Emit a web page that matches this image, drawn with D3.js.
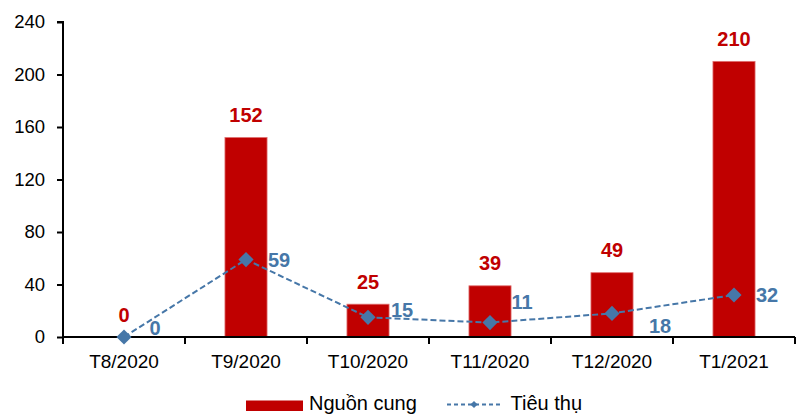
<!DOCTYPE html>
<html>
<head>
<meta charset="utf-8">
<script src="https://cdn.jsdelivr.net/npm/d3@7"></script>
<style>
  body { margin: 0; background: #fff; }
  svg { display: block; font-family: "Liberation Sans", Arial, sans-serif; }
</style>
</head>
<body>
<svg id="chart" width="805" height="416"></svg>
<script>
// Monthly supply (bars) and absorption (dashed line)
const categories = ["T8/2020", "T9/2020", "T10/2020", "T11/2020", "T12/2020", "T1/2021"];
const supply = [0, 152, 25, 39, 49, 210];
const sales = [0, 59, 15, 11, 18, 32];
const yTicks = [0, 40, 80, 120, 160, 200, 240];
const seriesNames = ["Nguồn cung", "Tiêu thụ"];

const barColor = "#C00000";
const lineColor = "#4677A8";
const FONT = "Liberation Sans, Arial, sans-serif";

const svg = d3.select("#chart");
const margin = { left: 63, right: 10, top: 22, bottom: 79 };
const W = 805, H = 416;

const x = d3.scaleBand()
  .domain(categories)
  .range([margin.left, W - margin.right])
  .paddingInner(0).paddingOuter(0);

const y = d3.scaleLinear()
  .domain([0, 240])
  .range([H - margin.bottom, margin.top]);

// Y axis
const yAxis = svg.append("g")
  .attr("transform", `translate(${margin.left},0)`)
  .call(d3.axisLeft(y).tickValues(yTicks).tickSize(6).tickPadding(12));
yAxis.select(".domain").attr("stroke", "#000").attr("stroke-width", 2)
  .attr("d", `M-6,${y(240)}H0V${y(0)}`);
yAxis.selectAll(".tick line").attr("stroke", "#000").attr("stroke-width", 2);
yAxis.selectAll(".tick text").attr("font-size", 18.5).attr("fill", "#000")
  .attr("font-family", FONT);

// Bars
const barW = x.bandwidth() * 0.345;
svg.append("g").selectAll("rect")
  .data(supply)
  .join("rect")
  .attr("x", (d, i) => x(categories[i]) + x.bandwidth() / 2 - barW / 2)
  .attr("y", d => y(d))
  .attr("width", barW)
  .attr("height", d => y(0) - y(d))
  .attr("fill", barColor)
  .attr("stroke", "#E07070")
  .attr("stroke-width", d => d > 0 ? 0.8 : 0);

// X axis (drawn after bars so its line sits on top)
const xAxis = svg.append("g")
  .attr("transform", `translate(0,${y(0)})`)
  .call(d3.axisBottom(x).tickSize(0).tickPadding(17.5));
xAxis.select(".domain").attr("stroke", "#000").attr("stroke-width", 2)
  .attr("d", `M${margin.left},0H${W - margin.right}`);
xAxis.selectAll(".tick text").attr("font-size", 19).attr("fill", "#000")
  .attr("font-family", FONT);
// Category separators below the axis
const sepPos = d3.range(categories.length + 1).map(i => margin.left + i * x.bandwidth());
xAxis.append("g").selectAll("line")
  .data(sepPos)
  .join("line")
  .attr("x1", d => d).attr("x2", d => d)
  .attr("y1", 0).attr("y2", 7)
  .attr("stroke", "#000").attr("stroke-width", 2);

// Bar value labels
svg.append("g").selectAll("text")
  .data(supply)
  .join("text")
  .attr("x", (d, i) => x(categories[i]) + x.bandwidth() / 2)
  .attr("y", d => y(d) - 15.5)
  .attr("text-anchor", "middle")
  .attr("font-size", 20).attr("font-weight", "bold")
  .attr("fill", barColor)
  .text(d => d);

// Sales line
const cx = (i) => x(categories[i]) + x.bandwidth() / 2;
const line = d3.line().x((d, i) => cx(i)).y(d => y(d));
svg.append("path")
  .datum(sales)
  .attr("d", line)
  .attr("fill", "none")
  .attr("stroke", lineColor)
  .attr("stroke-width", 2)
  .attr("stroke-dasharray", "6,3");

svg.append("g").selectAll("path")
  .data(sales)
  .join("path")
  .attr("d", d3.symbol().type(d3.symbolSquare).size(115))
  .attr("transform", (d, i) => `translate(${cx(i)},${y(d)}) rotate(45)`)
  .attr("fill", lineColor);

// Sales value labels, offsets set per point
const salesOffsets = [[31, -2], [33, 7], [34, -0.5], [32, -13.5], [48, 20], [33, 7]];
svg.append("g").selectAll("text")
  .data(sales)
  .join("text")
  .attr("x", (d, i) => cx(i) + salesOffsets[i][0])
  .attr("y", (d, i) => y(d) + salesOffsets[i][1])
  .attr("text-anchor", "middle")
  .attr("font-size", 20).attr("font-weight", "bold")
  .attr("fill", lineColor)
  .text(d => d);

// Legend
const legend = svg.append("g");
legend.append("rect")
  .attr("x", 246).attr("y", 400.5).attr("width", 57).attr("height", 10.5)
  .attr("fill", barColor);
legend.append("text")
  .attr("x", 309).attr("y", 409.5)
  .attr("font-size", 20).attr("fill", "#000")
  .text(seriesNames[0]);
legend.append("line")
  .attr("x1", 447).attr("x2", 502).attr("y1", 404.5).attr("y2", 404.5)
  .attr("stroke", lineColor).attr("stroke-width", 2)
  .attr("stroke-dasharray", "4,3");
legend.append("path")
  .attr("d", d3.symbol().type(d3.symbolSquare).size(26))
  .attr("transform", "translate(474,404.5) rotate(45)")
  .attr("fill", lineColor);
legend.append("text")
  .attr("x", 510.5).attr("y", 409.5)
  .attr("font-size", 20).attr("fill", "#000")
  .text(seriesNames[1]);
</script>
</body>
</html>
